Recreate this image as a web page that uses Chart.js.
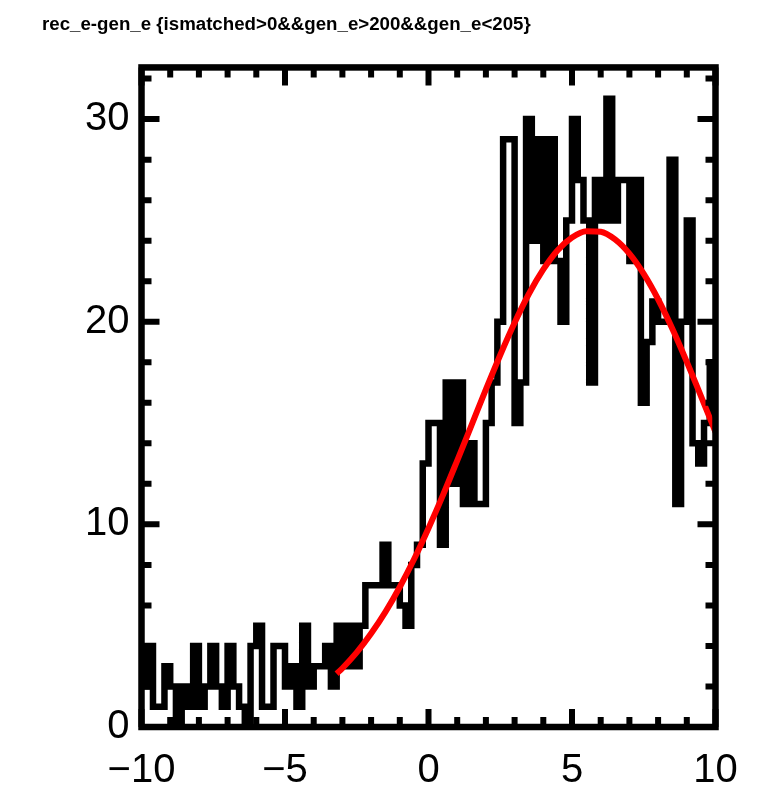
<!DOCTYPE html>
<html>
<head>
<meta charset="utf-8">
<title>rec_e-gen_e</title>
<style>
  html, body { margin: 0; padding: 0; background: #fff; }
  #wrap { width: 769px; height: 787px; }
</style>
</head>
<body>
<div id="wrap"><canvas id="histo"></canvas></div>

<script src="https://cdn.jsdelivr.net/npm/chart.js"></script>

<script>
  const titleText = 'rec_e-gen_e {ismatched>0&&gen_e>200&&gen_e<205}';

  // histogram: 100 bins of 0.2 from -10 to 10
  const binLow = -10;
  const binWidth = 0.2;
  const counts = [
    2, 4, 1, 1, 3, 2, 0, 2, 1, 4,
    1, 2, 4, 2, 1, 4, 2, 1, 0, 4,
    5, 1, 1, 4, 4, 2, 3, 1, 5, 2,
    3, 3, 4, 2, 5, 3, 5, 3, 5, 7,
    7, 7, 9, 7, 7, 6, 5, 8, 9, 13,
    15, 15, 9, 17, 12, 17, 11, 14, 11, 11,
    15, 17, 20, 29, 29, 15, 17, 30, 24, 29,
    23, 29, 23, 20, 25, 30, 27, 25, 17, 27,
    25, 31, 25, 27, 27, 23, 27, 16, 19, 21,
    20, 20, 28, 11, 20, 25, 14, 13, 15, 18
  ];

  // gaussian fit curve, sampled
  const fitX = [-3.2, -3, -2.5, -2, -1.5, -1, -0.5, 0, 0.5, 1, 1.5, 2, 2.5, 3, 3.5, 4,
                4.5, 5, 5.5, 6, 6.5, 7, 7.5, 8, 8.5, 9, 9.5, 10];
  const fitY = [2.63, 2.90, 3.68, 4.61, 5.68, 6.91, 8.29, 9.81, 11.43, 13.15, 14.90, 16.66,
                18.36, 19.95, 21.38, 22.58, 23.53, 24.16, 24.47, 24.44, 24.06, 23.36, 22.36,
                21.11, 19.64, 18.02, 16.31, 14.55];

  const xRange = [-10, 10];
  const yRange = [0, 32.55];
  const xLabelStep = 5;
  const yLabelStep = 10;

  // each bin as a flat top, neighbours joined by verticals
  const histPoints = [];
  counts.forEach((c, i) => {
    histPoints.push({x: binLow + i * binWidth, y: c});
    histPoints.push({x: binLow + (i + 1) * binWidth, y: c});
  });
  const fitPoints = fitX.map((x, i) => ({x: x, y: fitY[i]}));

  const minus = v => String(v).replace('-', '\u2212');

  // thick frame with inward ticks on all four sides
  const frameTicks = {
    id: 'frameTicks',
    afterDatasetsDraw(chart) {
      const {ctx, chartArea: a, scales: {x, y}} = chart;
      ctx.save();
      ctx.strokeStyle = '#000';
      ctx.lineWidth = 6;
      ctx.lineCap = 'butt';
      ctx.beginPath();
      for (let v = xRange[0]; v <= xRange[1]; v += 1) {
        const px = x.getPixelForValue(v);
        const len = v % 5 === 0 ? 18 : 10;
        ctx.moveTo(px, a.bottom); ctx.lineTo(px, a.bottom - len);
        ctx.moveTo(px, a.top); ctx.lineTo(px, a.top + len);
      }
      for (let v = 0; v <= yRange[1]; v += 2) {
        const py = y.getPixelForValue(v);
        const len = v % 10 === 0 ? 18 : 10;
        ctx.moveTo(a.left, py); ctx.lineTo(a.left + len, py);
        ctx.moveTo(a.right, py); ctx.lineTo(a.right - len, py);
      }
      ctx.stroke();
      ctx.lineJoin = 'miter';
      ctx.lineWidth = 6.5;
      ctx.strokeRect(a.left, a.top, a.right - a.left, a.bottom - a.top);
      ctx.restore();
    }
  };

  const labelFont = {family: "'Liberation Sans', Arial, sans-serif", size: 40};

  new Chart(document.getElementById('histo'), {
    type: 'line',
    data: {
      datasets: [
        {
          data: histPoints,
          order: 2,
          borderColor: '#000',
          borderWidth: 6.5,
          borderJoinStyle: 'miter',
          pointRadius: 0,
          fill: false,
          tension: 0
        },
        {
          data: fitPoints,
          order: 1,
          borderColor: '#ff0000',
          borderWidth: 6,
          pointRadius: 0,
          fill: false,
          cubicInterpolationMode: 'monotone'
        }
      ]
    },
    options: {
      responsive: true,
      maintainAspectRatio: false,
      animation: false,
      events: [],
      layout: {padding: {left: 42, right: 53.5, top: 0, bottom: 0}},
      plugins: {
        legend: {display: false},
        tooltip: {enabled: false},
        title: {
          display: true,
          text: titleText,
          align: 'start',
          color: '#000',
          font: {family: "'Liberation Sans', Arial, sans-serif", size: 18.7, weight: 'bold'},
          padding: {top: 14, bottom: 31}
        }
      },
      scales: {
        x: {
          type: 'linear',
          min: xRange[0],
          max: xRange[1],
          grid: {display: false, drawTicks: false},
          border: {display: false},
          ticks: {
            stepSize: xLabelStep,
            color: '#000',
            font: labelFont,
            padding: 20,
            autoSkip: false,
            maxRotation: 0,
            callback: minus
          },
          afterFit: s => { s.height = 60; }
        },
        y: {
          type: 'linear',
          min: yRange[0],
          max: yRange[1],
          grid: {display: false, drawTicks: false},
          border: {display: false},
          ticks: {
            stepSize: yLabelStep,
            includeBounds: false,
            color: '#000',
            font: labelFont,
            padding: 12,
            callback: minus
          },
          afterFit: s => { s.width = 99.5; }
        }
      }
    },
    plugins: [frameTicks]
  });
</script>
</body>
</html>
